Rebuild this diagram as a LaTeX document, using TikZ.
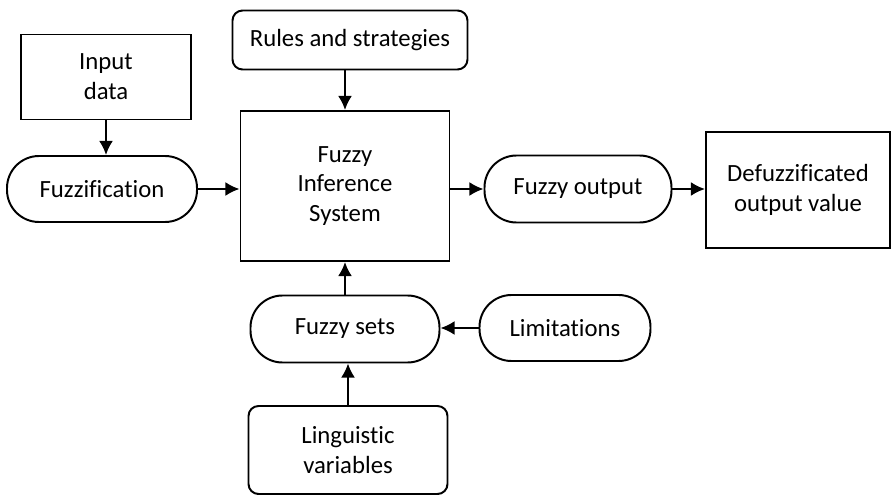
\documentclass[tikz,border=0pt]{standalone}
\usepackage{fontspec}
\setmainfont{Carlito}[Ligatures=NoCommon]
\usepackage{tikz}
\usetikzlibrary{arrows.meta, positioning}

\begin{document}
\begin{tikzpicture}[
    every node/.style={font=\fontsize{17.6}{21.3}\selectfont, text=black},
    block/.style={rectangle, draw=black, line width=1.4pt, align=center},
    roundblock/.style={block, rounded corners=0.25cm},
    pill/.style={block, rounded corners=0.8cm},
    arrow/.style={-{Latex[length=10pt,width=10pt]}, black, line width=1.7pt}
]
    \useasboundingbox (0,0) rectangle (22.3,12.4);
    % boxes
    \node[block, minimum width=4.25cm, minimum height=2.125cm] (input) at (2.65,10.475) {Input\\data};
    \node[roundblock, minimum width=5.875cm, minimum height=1.475cm] (rules) at (8.75,11.4) {Rules and strategies};
    \node[pill, minimum width=4.75cm, minimum height=1.65cm] (fuzzif) at (2.55,7.675) {Fuzzification};
    \node[block, minimum width=5.225cm, minimum height=3.75cm] (fis) at (8.625,7.75) {Fuzzy\\Inference\\System};
    \node[pill, minimum width=4.675cm, minimum height=1.675cm] (fout) at (14.45,7.675) {Fuzzy output};
    \node[block, minimum width=4.6cm, minimum height=2.9cm] (defuzz) at (19.95,7.65) {Defuzzificated\\output value};
    \node[pill, minimum width=4.725cm, minimum height=1.675cm] (fsets) at (8.625,4.175) {Fuzzy sets};
    \node[pill, minimum width=4.275cm, minimum height=1.65cm] (limit) at (14.125,4.2) {Limitations};
    \node[roundblock, minimum width=4.975cm, minimum height=2.2cm] (ling) at (8.7,1.15) {Linguistic\\variables};
    % connectors
    \draw[arrow] (input) -- (input |- fuzzif.north);
    \draw[arrow] (rules.south -| fis.north) -- (fis.north);
    \draw[arrow] (fuzzif) -- (fuzzif -| fis.west);
    \draw[arrow] (fis.east |- fout) -- (fout);
    \draw[arrow] (fout) -- (fout -| defuzz.west);
    \draw[arrow] (fsets) -- (fis);
    \draw[arrow] (limit.west) -- (limit.west -| fsets.east);
    \draw[arrow] (ling) -- (ling |- fsets.south);
\end{tikzpicture}
\end{document}
